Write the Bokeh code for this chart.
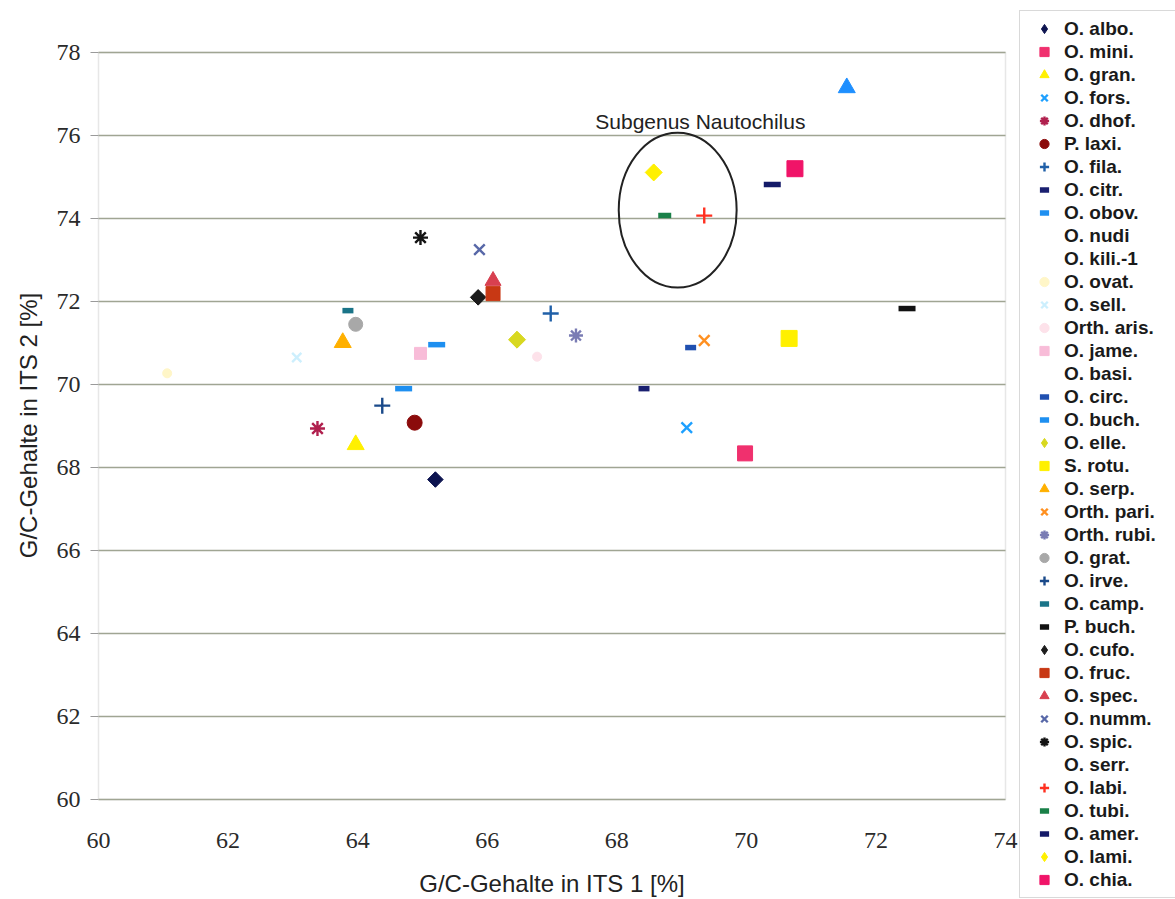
import math
from bokeh.plotting import figure
from bokeh.models import Legend, LegendItem, Label, Range1d, BoxAnnotation
from bokeh.core.properties import value
from bokeh.embed import file_html
from bokeh.resources import INLINE

# ---- data ----
species = ["O. albo.", "O. mini.", "O. gran.", "O. fors.", "O. dhof.", "P. laxi.",
           "O. fila.", "O. citr.", "O. obov.", "O. nudi", "O. kili.-1", "O. ovat.",
           "O. sell.", "Orth. aris.", "O. jame.", "O. basi.", "O. circ.", "O. buch.",
           "O. elle.", "S. rotu.", "O. serp.", "Orth. pari.", "Orth. rubi.", "O. grat.",
           "O. irve.", "O. camp.", "P. buch.", "O. cufo.", "O. fruc.", "O. spec.",
           "O. numm.", "O. spic.", "O. serr.", "O. labi.", "O. tubi.", "O. amer.",
           "O. lami.", "O. chia."]
gc_its1 = [65.20, 69.98, 63.97, 69.08, 63.38, 64.88,
           66.98, 68.42, 65.22, None, None, 61.06,
           63.06, 66.77, 64.97, None, 69.14, 64.71,
           66.46, 70.66, 63.77, 69.35, 67.37, 63.97,
           64.38, 63.85, 72.48, 65.86, 66.09, 66.09,
           65.88, 64.97, None, 69.35, 68.74, 70.40,
           68.57, 70.75]
gc_its2 = [67.71, 68.34, 68.55, 68.96, 68.94, 69.08,
           71.71, 69.90, 70.96, None, None, 70.27,
           70.65, 70.67, 70.75, None, 70.89, 69.90,
           71.08, 71.11, 71.01, 71.06, 71.18, 71.45,
           69.49, 71.78, 71.83, 72.10, 72.19, 72.50,
           73.25, 73.54, None, 74.07, 74.07, 74.82,
           75.11, 75.20]
# series whose legend entry is cut off in the source
extra_its1 = [71.55]
extra_its2 = [77.15]

x_ticks = [60, 62, 64, 66, 68, 70, 72, 74]
y_ticks = [60, 62, 64, 66, 68, 70, 72, 74, 76, 78]
x_title = "G/C-Gehalte in ITS 1 [%]"
y_title = "G/C-Gehalte in ITS 2 [%]"

annotation_text = "Subgenus Nautochilus"
ellipse_center = (68.94, 74.2)
ellipse_size = (1.82, 3.73)
annotation_pos = (69.29, 76.34)

# ---- layout (pixels) ----
W, H = 1175, 899
PA_LEFT, PA_RIGHT, PA_TOP, PA_BOTTOM = 98, 1005, 52, 799   # plot area in pixels
XMIN, XMAX = x_ticks[0], x_ticks[-1]
YMIN, YMAX = y_ticks[0], y_ticks[-1]
ppx = (PA_RIGHT - PA_LEFT) / (XMAX - XMIN)
ppy = (PA_BOTTOM - PA_TOP) / (YMAX - YMIN)


def px_x(px):
    return XMIN + (px - PA_LEFT) / ppx


def px_y(py):
    return YMIN + (PA_BOTTOM - py) / ppy


# ---- styles ----
styles = {
    "O. albo.": ("diamond", "#0d1450", 11),
    "O. mini.": ("square", "#f0306e", 15),
    "O. gran.": ("triangle", "#fff000", 17),
    "O. fors.": ("x", "#1ea0ff", 15),
    "O. dhof.": ("asterisk", "#b0204e", 15),
    "P. laxi.": ("circle", "#8b0b0b", 15),
    "O. fila.": ("cross", "#2060a8", 16),
    "O. citr.": ("dash", "#1a2070", 11),
    "O. obov.": ("dash", "#1e8ff0", 17),
    "O. nudi": ("circle", "#ffffff", 0),
    "O. kili.-1": ("circle", "#ffffff", 0),
    "O. ovat.": ("circle", "#fff6c8", 9),
    "O. sell.": ("x", "#cdeffd", 13),
    "Orth. aris.": ("circle", "#fde2ea", 9),
    "O. jame.": ("square", "#f8bcd8", 12),
    "O. basi.": ("circle", "#ffffff", 0),
    "O. circ.": ("dash", "#2050b0", 11),
    "O. buch.": ("dash", "#1e8ff0", 17),
    "O. elle.": ("diamond", "#d8d820", 12),
    "S. rotu.": ("square", "#fff000", 16),
    "O. serp.": ("triangle", "#ffb000", 17),
    "Orth. pari.": ("x", "#ff9020", 15),
    "Orth. rubi.": ("asterisk", "#7a7cb4", 14),
    "O. grat.": ("circle", "#a8a8a8", 14),
    "O. irve.": ("cross", "#1a4a8a", 16),
    "O. camp.": ("dash", "#1a7488", 11),
    "P. buch.": ("dash", "#111111", 17),
    "O. cufo.": ("diamond", "#1c1c1c", 11),
    "O. fruc.": ("square", "#c83814", 14),
    "O. spec.": ("triangle", "#d84050", 16),
    "O. numm.": ("x", "#5868a8", 15),
    "O. spic.": ("asterisk", "#141414", 15),
    "O. serr.": ("circle", "#ffffff", 0),
    "O. labi.": ("cross", "#ff3020", 16),
    "O. tubi.": ("dash", "#1a8048", 13),
    "O. amer.": ("dash", "#141a68", 17),
    "O. lami.": ("diamond", "#fff000", 12),
    "O. chia.": ("square", "#f01468", 16),
}

# The frame spans the whole canvas so the tall legend on the right is not clipped;
# the plot area, its grid, ticks and labels are drawn inside it.
p = figure(width=W, height=H, output_backend="svg", toolbar_location=None,
           x_axis_location=None, y_axis_location=None,
           x_range=Range1d(px_x(0), px_x(W)), y_range=Range1d(px_y(H), px_y(0)),
           min_border_left=0, min_border_right=0, min_border_top=0,
           min_border_bottom=0)
p.grid.visible = False
p.outline_line_color = None
p.background_fill_color = "white"
p.border_fill_color = "white"

# horizontal grid lines
n_y = len(y_ticks)
p.segment(x0=[XMIN] * n_y, x1=[XMAX] * n_y, y0=y_ticks, y1=y_ticks,
          line_color="#a0a593", line_width=1.5)
# y tick marks (outside, 8 px)
p.segment(x0=[XMIN - 8 / ppx] * n_y, x1=[XMIN] * n_y, y0=y_ticks, y1=y_ticks,
          line_color="#9a9a9a", line_width=1.2)
# plot area border
p.add_layout(BoxAnnotation(left=XMIN, right=XMAX, bottom=YMIN, top=YMAX,
                           fill_alpha=0, line_color="#b0b0b0", line_width=1.5,
                           level="underlay"))

# tick labels
p.text(x=[XMIN] * n_y, y=y_ticks, text=[str(t) for t in y_ticks], x_offset=-18,
       text_align="right", text_baseline="middle",
       text_font=value("Liberation Serif"), text_font_size=value("24px"),
       text_color="#2a2a2a")
p.text(x=x_ticks, y=[YMIN] * len(x_ticks), text=[str(t) for t in x_ticks], y_offset=41,
       text_align="center", text_baseline="middle",
       text_font=value("Liberation Serif"), text_font_size=value("24px"),
       text_color="#2a2a2a")

# axis titles
p.add_layout(Label(x=px_x((PA_LEFT + PA_RIGHT) / 2), y=px_y(883), text=x_title,
                   text_align="center", text_baseline="middle",
                   text_font="Liberation Sans", text_font_size="24px",
                   text_color="#222222"))
p.add_layout(Label(x=px_x(28), y=px_y(425), text=y_title, angle=math.pi / 2,
                   text_align="center", text_baseline="middle",
                   text_font="Liberation Sans", text_font_size="24px",
                   text_color="#222222"))

items = []
for name, x, y in zip(species, gc_its1, gc_its2):
    marker, color, size = styles[name]
    xs = [] if x is None else [x]
    ys = [] if y is None else [y]
    if marker == "dash":
        r = p.scatter(xs, ys, marker="dash", size=size, line_color=color,
                      line_width=5.5, fill_color=color)
    elif marker in ("x", "cross", "asterisk"):
        r = p.scatter(xs, ys, marker=marker, size=size, line_color=color,
                      line_width=2.4)
    elif marker == "diamond":
        p.scatter(xs, ys, marker="square", angle=math.pi / 4, size=size,
                  fill_color=color, line_color=color, line_width=1)
        r = p.scatter(xs, ys, marker="diamond", size=size * 1.3,
                      fill_color=color, line_color=color, line_width=1)
    else:
        r = p.scatter(xs, ys, marker=marker, size=size, fill_color=color,
                      line_color=color, line_width=1)
    if size == 0:
        r.glyph.line_alpha = 0
        r.glyph.fill_alpha = 0
    items.append(LegendItem(label=name, renderers=[r]))

p.scatter(extra_its1, extra_its2, marker="triangle", size=17,
          fill_color="#1e8fff", line_color="#1e8fff")

p.ellipse(x=[ellipse_center[0]], y=[ellipse_center[1]],
          width=[ellipse_size[0]], height=[ellipse_size[1]],
          fill_alpha=0, line_color="#222222", line_width=2)
p.add_layout(Label(x=annotation_pos[0], y=annotation_pos[1], text=annotation_text,
                   text_align="center", text_baseline="middle",
                   text_font="Liberation Sans", text_font_size="21px",
                   text_color="#222222"))

legend = Legend(items=items, location=(1019, 1))
legend.ncols = 1
legend.margin = 0
legend.padding = 6
legend.spacing = 0
legend.glyph_height = 23
legend.label_height = 23
legend.glyph_width = 36
legend.label_standoff = 2
legend.label_width = 140
legend.label_text_font = "Liberation Sans"
legend.label_text_font_size = "19px"
legend.label_text_font_style = "bold"
legend.label_text_color = "#1a1a1a"
legend.border_line_color = "#b4b4b4"
legend.border_line_width = 1.5
legend.background_fill_color = "white"
legend.background_fill_alpha = 1
p.add_layout(legend)

open("out.html", "w").write(file_html(p, INLINE))
